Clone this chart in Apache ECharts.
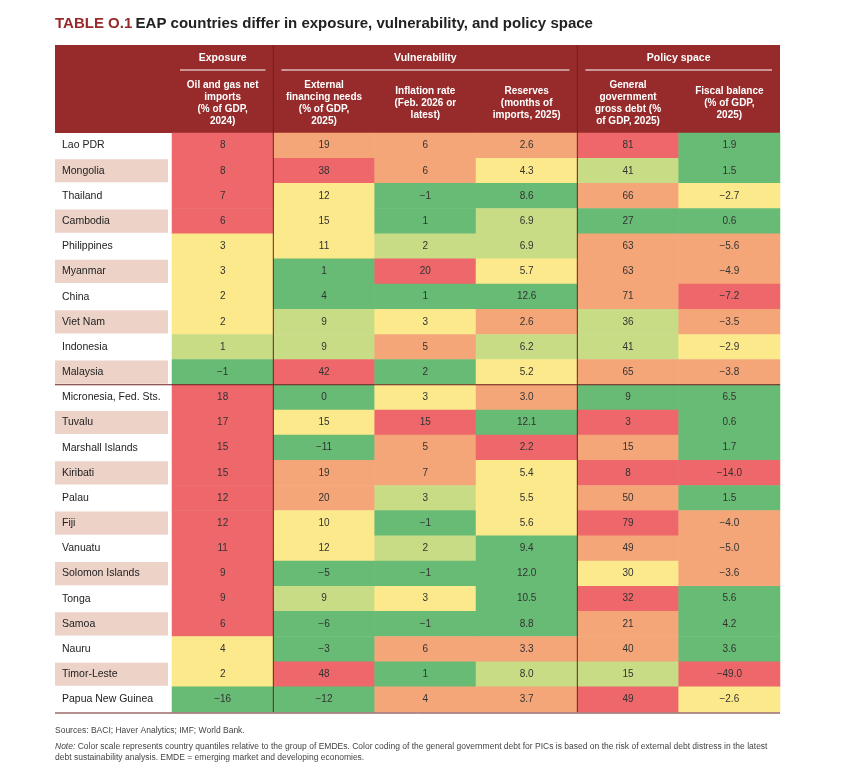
<!DOCTYPE html>
<html>
<head>
<meta charset="utf-8">
<script src="https://cdn.jsdelivr.net/npm/echarts@6/dist/echarts.min.js"></script>
<style>
  html, body { margin: 0; padding: 0; background: #fff; }
  #chart { width: 860px; height: 770px; }
</style>
</head>
<body>
<div id="chart"></div>
<script>
const countries = ['Lao PDR', 'Mongolia', 'Thailand', 'Cambodia', 'Philippines', 'Myanmar', 'China', 'Viet Nam',
  'Indonesia', 'Malaysia', 'Micronesia, Fed. Sts.', 'Tuvalu', 'Marshall Islands', 'Kiribati', 'Palau', 'Fiji',
  'Vanuatu', 'Solomon Islands', 'Tonga', 'Samoa', 'Nauru', 'Timor-Leste', 'Papua New Guinea'];

const columns = ['Oil and gas net\nimports\n(% of GDP,\n2024)', 'External\nfinancing needs\n(% of GDP,\n2025)',
  'Inflation rate\n(Feb. 2026 or\nlatest)', 'Reserves\n(months of\nimports, 2025)',
  'General\ngovernment\ngross debt (%\nof GDP, 2025)', 'Fiscal balance\n(% of GDP,\n2025)'];

// values per column, rows in country order
const oilGas = [8, 8, 7, 6, 3, 3, 2, 2, 1, -1, 18, 17, 15, 15, 12, 12, 11, 9, 9, 6, 4, 2, -16];
const extFinancing = [19, 38, 12, 15, 11, 1, 4, 9, 9, 42, 0, 15, -11, 19, 20, 10, 12, -5, 9, -6, -3, 48, -12];
const inflation = [6, 6, -1, 1, 2, 20, 1, 3, 5, 2, 3, 15, 5, 7, 3, -1, 2, -1, 3, -1, 6, 1, 4];
const reserves = [2.6, 4.3, 8.6, 6.9, 6.9, 5.7, 12.6, 2.6, 6.2, 5.2, 3.0, 12.1, 2.2, 5.4, 5.5, 5.6, 9.4, 12.0, 10.5, 8.8, 3.3, 8.0, 3.7];
const govDebt = [81, 41, 66, 27, 63, 63, 71, 36, 41, 65, 9, 3, 15, 8, 50, 79, 49, 30, 32, 21, 40, 15, 49];
const fiscal = [1.9, 1.5, -2.7, 0.6, -5.6, -4.9, -7.2, -3.5, -2.9, -3.8, 6.5, 0.6, 1.7, -14.0, 1.5, -4.0, -5.0, -3.6, 5.6, 4.2, 3.6, -49.0, -2.6];

// colour class: G green, L light green, Y yellow, O orange, R red
const classes = [
  'ROOORG', 'RROYLG', 'RYGGOY', 'RYGLGG', 'YYLLOO', 'YGRYOO', 'YGGGOR', 'YLYOLO', 'LLOLLY', 'GRGYOO',
  'RGYOGG', 'RYRGRG', 'RGORG'.slice(0, 3) + 'ROG', 'ROOYRR', 'ROLYOG', 'RYGYRO', 'RYLGOO', 'RGGGYO',
  'RLYGRG', 'RGGGOG', 'YGOOOG', 'YRGLLR', 'GGOORY'];

const colorOf = { G: '#67bb74', L: '#c8dc86', Y: '#fbe98b', O: '#f5a679', R: '#ee676a' };
const cols = [oilGas, extFinancing, inflation, reserves, govDebt, fiscal];
const decimals = [0, 0, 0, 1, 0, 1];

const data = [];
cols.forEach((arr, c) => {
  arr.forEach((v, r) => {
    data.push({ value: [c, r, v], itemStyle: { color: colorOf[classes[r][c]] } });
  });
});

const L = 172, R = 780, T = 133, B = 712;
const colW = (R - L) / 6;
const hdr = '#972b2b';

const graphics = [
  { type: 'rect', shape: { x: 55, y: 45, width: R - 55, height: T - 45 }, style: { fill: hdr }, z: 0 },
  { type: 'text', left: 55, top: 16, style: { text: '{a|TABLE O.1} {b|EAP countries differ in exposure, vulnerability, and policy space}',
    rich: { a: { fill: '#972b2b', fontSize: 15, fontWeight: 'bold', fontFamily: 'Liberation Sans' },
            b: { fill: '#222', fontSize: 15, fontWeight: 'bold', fontFamily: 'Liberation Sans' } } } }
];
const groups = [['Exposure', 0, 1], ['Vulnerability', 1, 4], ['Policy space', 4, 6]];
groups.forEach(g => {
  const x0 = L + g[1] * colW, x1 = L + g[2] * colW;
  graphics.push({ type: 'text', x: (x0 + x1) / 2, y: 58, style: { text: g[0], fill: '#fff', fontSize: 10.5, fontWeight: 'bold',
    align: 'center', verticalAlign: 'middle', fontFamily: 'Liberation Sans' } });
  graphics.push({ type: 'line', shape: { x1: x0 + 8, y1: 70, x2: x1 - 8, y2: 70 }, style: { stroke: '#fff', lineWidth: 1.2 } });
});
columns.forEach((t, i) => {
  graphics.push({ type: 'text', x: L + (i + 0.5) * colW, y: 103, style: { text: t, fill: '#fff', fontSize: 10, fontWeight: 'bold',
    align: 'center', verticalAlign: 'middle', lineHeight: 12, fontFamily: 'Liberation Sans' } });
});
const rowH = (B - T) / countries.length;
[L + colW, L + 4 * colW].forEach(x => {
  graphics.push({ type: 'line', shape: { x1: x, y1: 45, x2: x, y2: B }, style: { stroke: '#6b2020', lineWidth: 1 }, z: 10 });
});
graphics.push({ type: 'line', shape: { x1: 55, y1: T + 10 * rowH, x2: R, y2: T + 10 * rowH }, style: { stroke: '#6b2020', lineWidth: 1.2 }, z: 10 });
graphics.push({ type: 'line', shape: { x1: 55, y1: B + 1, x2: R, y2: B + 1 }, style: { stroke: '#6b2020', lineWidth: 1 }, z: 10 });
graphics.push({ type: 'text', left: 55, top: 726, style: { text: 'Sources: BACI; Haver Analytics; IMF; World Bank.',
  fill: '#444', fontSize: 8.5, fontFamily: 'Liberation Sans' } });
graphics.push({ type: 'text', left: 55, top: 741, style: {
  text: '{i|Note:} Color scale represents country quantiles relative to the group of EMDEs. Color coding of the general government debt for PICs is based on the risk of external debt distress in the latest\ndebt sustainability analysis. EMDE = emerging market and developing economies.',
  fill: '#444', fontSize: 8.5, lineHeight: 11, fontFamily: 'Liberation Sans', rich: { i: { fontStyle: 'italic', fontSize: 8.5, fill: '#444' } } } });

const chart = echarts.init(document.getElementById('chart'));
chart.setOption({
  animation: false,
  textStyle: { fontFamily: 'Liberation Sans' },
  grid: { left: L, right: 860 - R, top: T, bottom: 770 - B },
  xAxis: { type: 'category', data: columns, show: false },
  yAxis: {
    type: 'category', data: countries, inverse: true,
    axisLine: { show: false }, axisTick: { show: false },
    axisLabel: {
      align: 'left', margin: 117,
      formatter: (v, i) => (i % 2 ? '{p|' : '{w|') + v + '}',
      rich: {
        p: { backgroundColor: '#ecd2c7', width: 106, height: rowH - 2, padding: [0, 0, 0, 7], fontSize: 10.5, color: '#222' },
        w: { width: 106, height: rowH - 2, padding: [0, 0, 0, 7], fontSize: 10.5, color: '#222' }
      }
    }
  },
  series: [{
    type: 'heatmap', data: data,
    label: {
      show: true, fontSize: 10, color: '#333',
      formatter: p => {
        const v = p.value[2], s = Math.abs(v).toFixed(decimals[p.value[0]]);
        return v < 0 ? '\u2212' + s : s;
      }
    }
  }],
  graphic: graphics
});
</script>
</body>
</html>
